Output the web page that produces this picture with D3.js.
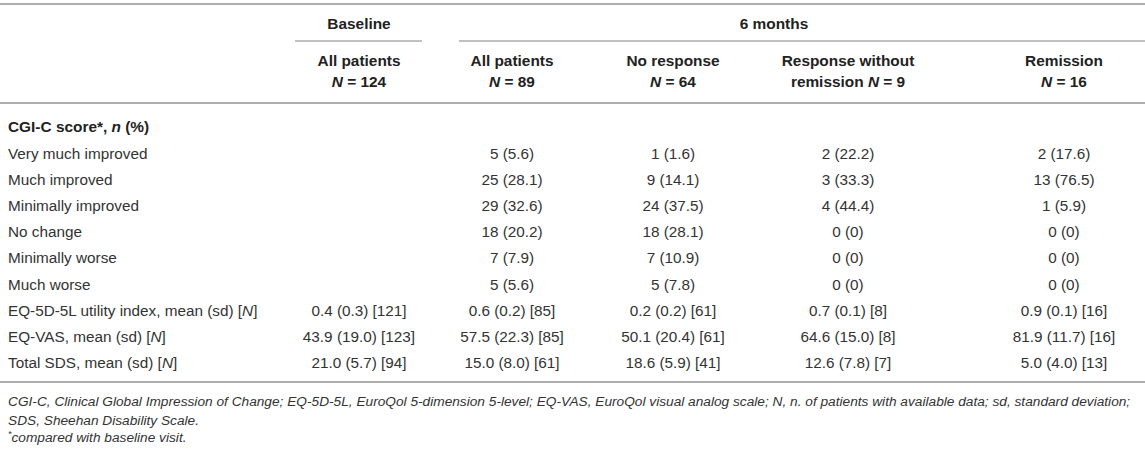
<!DOCTYPE html>
<html>
<head>
<meta charset="utf-8">
<script src="https://cdn.jsdelivr.net/npm/d3@7"></script>
<style>
  body { margin: 0; background: #fff; }
  text { font-family: "Liberation Sans", Arial, Helvetica, sans-serif; }
</style>
</head>
<body>
<script>
// column headers
var groups = ['Baseline', '6 months'];
var colNames = [['All patients'], ['All patients'], ['No response'], ['Response without', 'remission'], ['Remission']];
var colN = [124, 89, 64, 9, 16];

// CGI-C rows: [n, %] per column (baseline has none)
var cgiLabels = ['Very much improved', 'Much improved', 'Minimally improved', 'No change', 'Minimally worse', 'Much worse'];
var cgiAll = [[5, 5.6], [25, 28.1], [29, 32.6], [18, 20.2], [7, 7.9], [5, 5.6]];
var cgiNoResp = [[1, 1.6], [9, 14.1], [24, 37.5], [18, 28.1], [7, 10.9], [5, 7.8]];
var cgiResp = [[2, 22.2], [3, 33.3], [4, 44.4], [0, 0], [0, 0], [0, 0]];
var cgiRemis = [[2, 17.6], [13, 76.5], [1, 5.9], [0, 0], [0, 0], [0, 0]];

// mean (sd) [N] rows, one triple per column
var measureLabels = ['EQ-5D-5L utility index, mean (sd) [', 'EQ-VAS, mean (sd) [', 'Total SDS, mean (sd) ['];
var eq5d = [[0.4, 0.3, 121], [0.6, 0.2, 85], [0.2, 0.2, 61], [0.7, 0.1, 8], [0.9, 0.1, 16]];
var eqvas = [[43.9, 19.0, 123], [57.5, 22.3, 85], [50.1, 20.4, 61], [64.6, 15.0, 8], [81.9, 11.7, 16]];
var sds = [[21.0, 5.7, 94], [15.0, 8.0, 61], [18.6, 5.9, 41], [12.6, 7.8, 7], [5.0, 4.0, 13]];

var footnotes = [
  'CGI-C, Clinical Global Impression of Change; EQ-5D-5L, EuroQol 5-dimension 5-level; EQ-VAS, EuroQol visual analog scale; N, n. of patients with available data; sd, standard deviation;',
  'SDS, Sheehan Disability Scale.',
  'compared with baseline visit.'
];

var W = 1145, H = 454;
var svg = d3.select('body').append('svg').attr('width', W).attr('height', H);

var x = d3.scaleOrdinal().domain(d3.range(5)).range([359, 512, 673, 848, 1064]);
var y = d3.scaleLinear().domain([0, 9]).range([127, 363]);   // row index -> text middle

var lineColor = '#adadad';
var txt = '#333';
var fs = 15.3, hfs = 15.4;

function hline(x1, x2, yy, w) {
  svg.append('line').attr('x1', x1).attr('x2', x2).attr('y1', yy).attr('y2', yy)
     .attr('stroke', lineColor).attr('stroke-width', w);
}

hline(0, W, 4, 2);
hline(295, 422, 41, 1.5);
hline(459, W, 41, 1.5);
hline(0, W, 103, 2);
hline(0, W, 382, 2);

// group headers
svg.selectAll('text.group')
   .data(groups).enter().append('text')
   .attr('class', 'group')
   .attr('x', (d, i) => i == 0 ? x(0) : 774)
   .attr('y', 24).attr('dy', '0.35em')
   .attr('text-anchor', 'middle')
   .attr('font-size', hfs).attr('font-weight', 'bold').attr('fill', '#222')
   .text(d => d);

// column headers
colNames.forEach(function(lines, i) {
  var t = svg.append('text').attr('text-anchor', 'middle')
     .attr('font-size', hfs).attr('font-weight', 'bold').attr('fill', '#222');
  t.append('tspan').attr('x', x(i)).attr('y', 66).text(lines[0]);
  var s = t.append('tspan').attr('x', x(i)).attr('y', 87);
  if (lines.length > 1) s.append('tspan').text(lines[1] + ' ');
  s.append('tspan').attr('font-style', 'italic').text('N');
  s.append('tspan').text(' = ' + colN[i]);
});

// section label
var sec = svg.append('text').attr('x', 8).attr('y', y(0)).attr('dy', '0.35em')
   .attr('font-size', hfs).attr('font-weight', 'bold').attr('fill', '#222');
sec.append('tspan').text('CGI-C score*, ');
sec.append('tspan').attr('font-style', 'italic').text('n');
sec.append('tspan').text(' (%)');

var fmtPct = p => p == 0 ? '0' : p.toFixed(1);

// CGI-C rows
svg.selectAll('text.cgiLabel')
   .data(cgiLabels).enter().append('text')
   .attr('class', 'cgiLabel')
   .attr('x', 8).attr('y', (d, i) => y(i + 1)).attr('dy', '0.35em')
   .attr('font-size', fs).attr('fill', txt)
   .text(d => d);

[cgiAll, cgiNoResp, cgiResp, cgiRemis].forEach(function(col, c) {
  svg.selectAll('text.cgi' + c)
     .data(col).enter().append('text')
     .attr('class', 'cgi' + c)
     .attr('x', x(c + 1)).attr('y', (d, i) => y(i + 1)).attr('dy', '0.35em')
     .attr('text-anchor', 'middle')
     .attr('font-size', fs).attr('fill', txt)
     .text(d => d[0] + ' (' + fmtPct(d[1]) + ')');
});

// measure rows
[eq5d, eqvas, sds].forEach(function(row, r) {
  var ly = y(7 + r);
  var lab = svg.append('text').attr('x', 8).attr('y', ly).attr('dy', '0.35em')
     .attr('font-size', fs).attr('fill', txt);
  lab.append('tspan').text(measureLabels[r]);
  lab.append('tspan').attr('font-style', 'italic').text('N');
  lab.append('tspan').text(']');

  svg.selectAll('text.m' + r)
     .data(row).enter().append('text')
     .attr('class', 'm' + r)
     .attr('x', (d, i) => x(i)).attr('y', ly).attr('dy', '0.35em')
     .attr('text-anchor', 'middle')
     .attr('font-size', fs).attr('fill', txt)
     .text(d => d[0].toFixed(1) + ' (' + d[1].toFixed(1) + ') [' + d[2] + ']');
});

// footnotes
svg.selectAll('text.foot')
   .data(footnotes).enter().append('text')
   .attr('class', 'foot')
   .attr('x', 8).attr('y', (d, i) => 401 + i * 19.5).attr('dy', '0.35em')
   .attr('font-size', 13.7).attr('font-style', 'italic').attr('fill', '#333')
   .each(function(d, i) {
     var t = d3.select(this);
     if (i == 2) t.append('tspan').attr('font-size', 9).attr('dy', '-0.35em').text('*');
     t.append('tspan').attr('dy', i == 2 ? '0.35em' : null).text(d);
   });
</script>
</body>
</html>
